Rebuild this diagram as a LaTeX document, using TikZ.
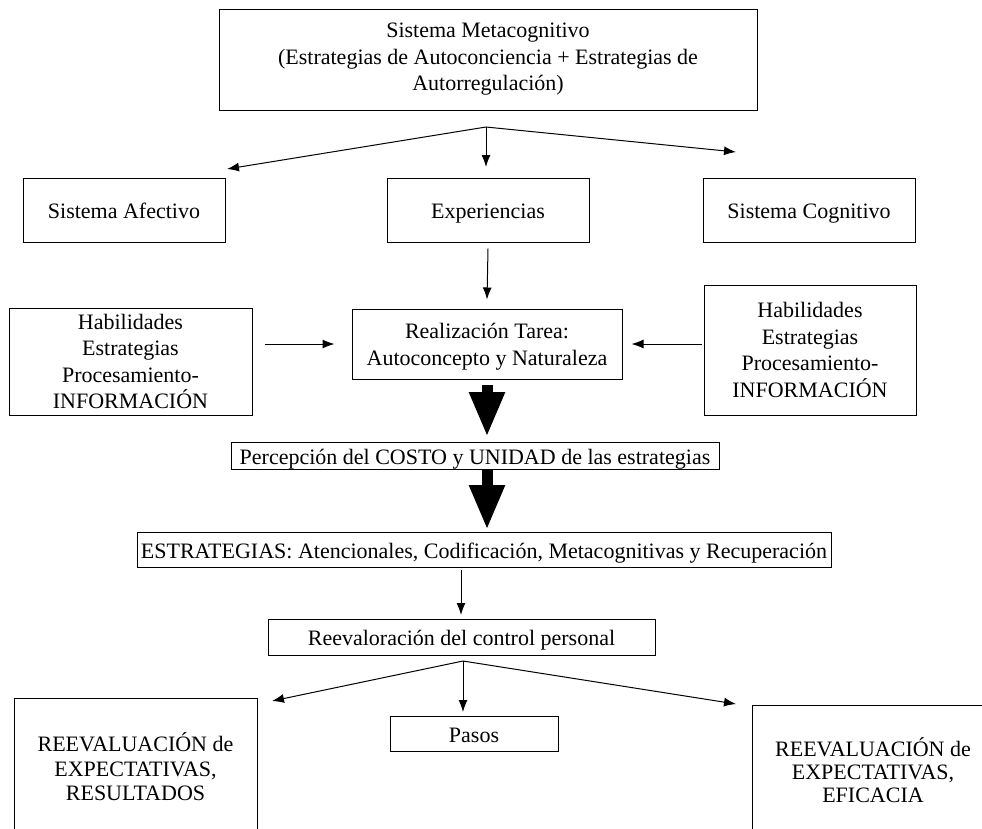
\documentclass[tikz,border=0pt]{standalone}
\usepackage{fontspec}
\setmainfont{Liberation Serif}
\usetikzlibrary{arrows.meta}

\begin{document}
\begin{tikzpicture}[x=1pt, y=-1pt,
  every node/.style={font=\fontsize{22}{26.5}\selectfont, align=center, inner sep=0pt},
  box/.style={draw, line width=1pt},
  oneline/.style={text height=17pt, text depth=0pt},
  arr/.style={draw, line width=1pt, -{Latex[length=12pt,width=9pt]}},
  bigarr/.style={draw, line width=11pt, -{Triangle[length=45pt,width=33pt]}}
]
% page frame
\useasboundingbox (0,0) rectangle (982,828);
\fill[white] (0,0) rectangle (982,828);
\clip (0,0) rectangle (982,828);

% boxes
\node[box, minimum width=538, minimum height=101] (meta) at (488,59.5)
  {Sistema Metacognitivo\\(Estrategias de Autoconciencia + Estrategias de\\Autorregulación)};
\node[box, oneline, minimum width=202, minimum height=64] (afe) at (124,210) {Sistema Afectivo};
\node[box, oneline, minimum width=202, minimum height=64] (exp) at (488,210) {Experiencias};
\node[box, oneline, minimum width=212, minimum height=64] (cog) at (809,210) {Sistema Cognitivo};
\node[box, minimum width=270, minimum height=70] (real) at (487,344) {};
\node (realt) at (487,346.5) {Realización Tarea:\\Autoconcepto y Naturaleza};
\node[box, minimum width=243, minimum height=107] (habL) at (130.5,361.5)
  {Habilidades\\Estrategias\\Procesamiento-\\INFORMACIÓN};
\node[box, minimum width=212, minimum height=130] (habR) at (810,350)
  {Habilidades\\Estrategias\\Procesamiento-\\INFORMACIÓN};
\node[box, oneline, minimum width=488, minimum height=27] (percep) at (475,455.5)
  {Percepción del COSTO y UNIDAD de las estrategias};
\node[box, oneline, minimum width=694, minimum height=35] (estr) at (484,549.5)
  {ESTRATEGIAS: Atencionales, Codificación, Metacognitivas y Recuperación};
\node[box, oneline, minimum width=387, minimum height=36] (reev) at (461.5,637)
  {Reevaloración del control personal};
\node[box, oneline, minimum width=168, minimum height=35] (pasos) at (474,733.5) {Pasos};
% lower boxes run past the page edge
\node[box, minimum width=243, minimum height=200] (resL) at (135.5,798) {};
\node[font=\fontsize{22}{24.5}\selectfont] (resLt) at (135.5,767)
  {REEVALUACIÓN de\\EXPECTATIVAS,\\RESULTADOS};
\node[box, minimum width=260, minimum height=200] (resR) at (882,805) {};
\node[font=\fontsize{22}{23}\selectfont] (resRt) at (873,770)
  {REEVALUACIÓN de\\EXPECTATIVAS,\\EFICACIA};

% branching from the metacognitive system
\coordinate (b1) at (486,127);
\coordinate (b1L) at (227,169);
\coordinate (b1C) at (486,167);
\coordinate (b1R) at (736,152);
\draw[arr] (b1) -- (b1L);
\draw[arr] (b1) -- (b1C);
\draw[arr] (b1) -- (b1R);

% into the task
\draw[arr] ([yshift=-6pt]exp.south) -- ([yshift=9pt]real.north);
\draw[arr] ([xshift=12pt]habL.east |- real.west) -- ([xshift=-17pt]real.west);
\draw[arr] ([xshift=-2pt]habR.west |- real.east) -- ([xshift=9pt]real.east);

% heavy arrows
\draw[bigarr] (487,385) -- (487,437);
\draw[bigarr] (487,470) -- (487,530);

\draw[arr] (461,570) -- (461,615);

% branching from the reappraisal
\coordinate (b2) at (463,661);
\coordinate (b2L) at (272,701);
\coordinate (b2C) at (463,712);
\coordinate (b2R) at (736,704);
\draw[arr] (b2) -- (b2L);
\draw[arr] (b2) -- (b2C);
\draw[arr] (b2) -- (b2R);
\end{tikzpicture}
\end{document}
